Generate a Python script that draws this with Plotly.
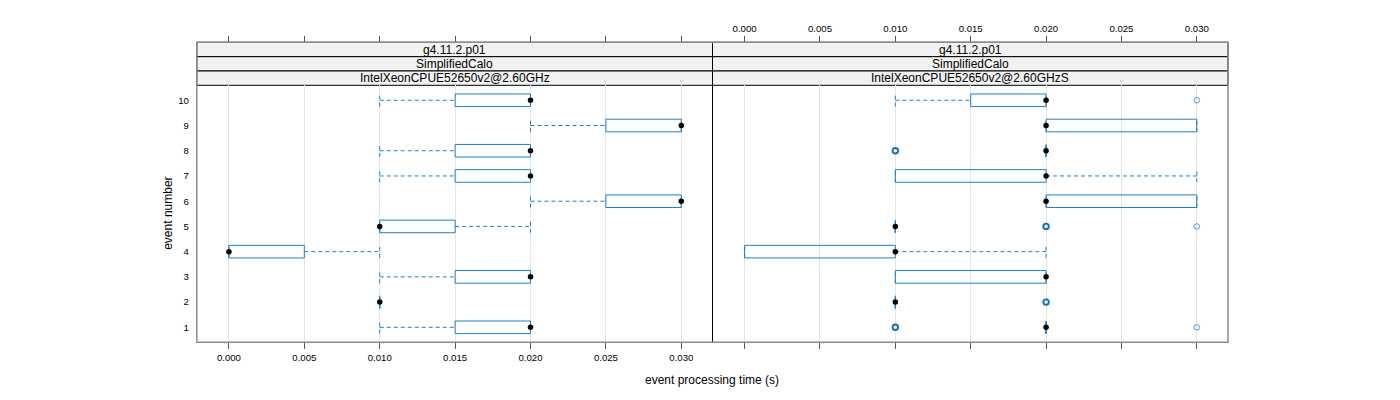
import plotly.graph_objects as go
from collections import Counter

# ---------------- data ----------------
events = [1, 2, 3, 4, 5, 6, 7, 8, 9, 10]
event_labels = ["1", "2", "3", "4", "5", "6", "7", "8", "9", "10"]
tick_vals = [0.000, 0.005, 0.010, 0.015, 0.020, 0.025, 0.030]
tick_text = ["0.000", "0.005", "0.010", "0.015", "0.020", "0.025", "0.030"]

strip_release = "g4.11.2.p01"
strip_app = "SimplifiedCalo"
panel_names = ["IntelXeonCPUE52650v2@2.60GHz", "IntelXeonCPUE52650v2@2.60GHzS"]

# panel 1 five-number summaries per event (lower whisker, Q1, median, Q3, upper whisker)
p1_lo  = [0.010, 0.010, 0.010, 0.000, 0.010, 0.020, 0.010, 0.010, 0.020, 0.010]
p1_q1  = [0.015, 0.010, 0.015, 0.000, 0.010, 0.025, 0.015, 0.015, 0.025, 0.015]
p1_med = [0.020, 0.010, 0.020, 0.000, 0.010, 0.030, 0.020, 0.020, 0.030, 0.020]
p1_q3  = [0.020, 0.010, 0.020, 0.005, 0.015, 0.030, 0.020, 0.020, 0.030, 0.020]
p1_hi  = [0.020, 0.010, 0.020, 0.010, 0.020, 0.030, 0.020, 0.020, 0.030, 0.020]
p1_out_x = []
p1_out_event = []

# panel 2
p2_lo  = [0.020, 0.010, 0.010, 0.000, 0.010, 0.020, 0.010, 0.020, 0.020, 0.010]
p2_q1  = [0.020, 0.010, 0.010, 0.000, 0.010, 0.020, 0.010, 0.020, 0.020, 0.015]
p2_med = [0.020, 0.010, 0.020, 0.010, 0.010, 0.020, 0.020, 0.020, 0.020, 0.020]
p2_q3  = [0.020, 0.010, 0.020, 0.010, 0.010, 0.030, 0.020, 0.020, 0.030, 0.020]
p2_hi  = [0.020, 0.010, 0.020, 0.020, 0.010, 0.030, 0.030, 0.020, 0.030, 0.020]
p2_out_x     = [0.010, 0.010, 0.030, 0.020, 0.020, 0.020, 0.020, 0.030, 0.010, 0.010, 0.030]
p2_out_event = [1,     1,     1,     2,     2,     5,     5,     5,     8,     8,     10]

# ---------------- style ----------------
W, H = 1400, 400
OFF = 8  # page body margin
BOX_COL = "#1f80c8"
HALF = 0.25
FONT = "Liberation Sans, Arial, sans-serif"
X_RANGE = [-0.00213, 0.03207]
Y_RANGE = [0.406, 10.594]

px_l1, px_mid, px_r2 = 196.8, 712.5, 1228.0
py_strip_top, py_s1, py_s2, py_panel_top, py_bottom = 42.3, 56.7, 71.0, 85.3, 342.3

def fx(p):
    return (p - OFF) / W

def fy(p):
    return 1 - (p - OFF) / H


def panel_traces(lo, q1, med, q3, hi, out_x, out_ev, xa):
    bx, by, wx, wy, cx, cy = [], [], [], [], [], []
    for e, a, b, m, c, d in zip(events, lo, q1, med, q3, hi):
        bx += [b, c, c, b, b, None]
        by += [e - HALF, e - HALF, e + HALF, e + HALF, e - HALF, None]
        wx += [a, b, None, c, d, None]
        wy += [e, e, None, e, e, None]
        cx += [a, a, None, d, d, None]
        cy += [e - HALF, e + HALF, None, e - HALF, e + HALF, None]
    tr = []
    tr.append(go.Scatter(x=wx, y=wy, xaxis=xa, yaxis="y", mode="lines",
                         line=dict(color=BOX_COL, width=1, dash="4px,3px"),
                         hoverinfo="skip", showlegend=False))
    tr.append(go.Scatter(x=cx, y=cy, xaxis=xa, yaxis="y", mode="lines",
                         line=dict(color=BOX_COL, width=1, dash="4px,3px"),
                         hoverinfo="skip", showlegend=False))
    tr.append(go.Scatter(x=bx, y=by, xaxis=xa, yaxis="y", mode="lines",
                         line=dict(color=BOX_COL, width=1),
                         hoverinfo="skip", showlegend=False))
    if out_x:
        cnt = Counter(zip(out_x, out_ev))
        ux = [k[0] for k in cnt]
        uy = [k[1] for k in cnt]
        lw = [1.0 if cnt[k] == 1 else 1.9 for k in cnt]
        col = ["rgba(31,128,200,0.75)" if cnt[k] == 1 else "#0f6fb8" for k in cnt]
        tr.append(go.Scatter(x=ux, y=uy, xaxis=xa, yaxis="y", mode="markers",
                             marker=dict(symbol="circle-open", size=5.5, color=col,
                                         line=dict(width=lw, color=col)),
                             showlegend=False))
    tr.append(go.Scatter(x=med, y=events, xaxis=xa, yaxis="y", mode="markers",
                         marker=dict(symbol="circle", size=5.5, color="black"),
                         showlegend=False))
    return tr


fig = go.Figure()
for t in panel_traces(p1_lo, p1_q1, p1_med, p1_q3, p1_hi, p1_out_x, p1_out_event, "x"):
    fig.add_trace(t)
for t in panel_traces(p2_lo, p2_q1, p2_med, p2_q3, p2_hi, p2_out_x, p2_out_event, "x2"):
    fig.add_trace(t)
# empty traces so the top axes are drawn
fig.add_trace(go.Scatter(x=[], y=[], xaxis="x3", yaxis="y", showlegend=False))
fig.add_trace(go.Scatter(x=[], y=[], xaxis="x4", yaxis="y", showlegend=False))

tickfont = dict(family=FONT, size=9.6, color="black")
common_x = dict(range=X_RANGE, tickvals=tick_vals, ticktext=tick_text, ticks="outside",
                ticklen=6, tickcolor="#555", tickwidth=1, zeroline=False, showline=False,
                tickfont=tickfont)
dom_y = [fy(py_bottom), fy(py_panel_top)]

fig.update_layout(
    width=W, height=H, margin=dict(l=0, r=0, t=0, b=0),
    paper_bgcolor="white", plot_bgcolor="white", showlegend=False,
    font=dict(family=FONT, size=12, color="black"),
    xaxis=dict(domain=[fx(px_l1), fx(px_mid)], anchor="y", showgrid=True,
               gridcolor="#e6e6e6", gridwidth=1, showticklabels=True, **common_x),
    xaxis2=dict(domain=[fx(px_mid), fx(px_r2)], anchor="y", showgrid=True,
                gridcolor="#e6e6e6", gridwidth=1, showticklabels=False, **common_x),
    xaxis3=dict(overlaying="x", side="top", anchor="free", position=fy(py_strip_top),
                showgrid=False, showticklabels=False, **common_x),
    xaxis4=dict(overlaying="x2", side="top", anchor="free", position=fy(py_strip_top),
                showgrid=False, showticklabels=True, **common_x),
    yaxis=dict(domain=dom_y, range=Y_RANGE, tickvals=events, ticktext=event_labels,
               ticks="outside", ticklen=5, tickcolor="rgba(0,0,0,0)", showgrid=False,
               zeroline=False, showline=False, tickfont=tickfont, anchor="x"),
)

shapes = []
strip_rows = [(py_strip_top, py_s1, strip_release), (py_s1, py_s2, strip_app),
              (py_s2, py_panel_top, None)]
annotations = []
for i, (x0, x1) in enumerate([(px_l1, px_mid), (px_mid, px_r2)]):
    for (y0, y1, txt) in strip_rows:
        shapes.append(dict(type="rect", xref="paper", yref="paper",
                           x0=fx(x0), x1=fx(x1), y0=fy(y1), y1=fy(y0),
                           fillcolor="#f2f2f2", line=dict(color="black", width=1),
                           layer="below"))
        label = txt if txt is not None else panel_names[i]
        annotations.append(dict(text=label, xref="paper", yref="paper",
                                x=fx((x0 + x1) / 2), y=fy((y0 + y1) / 2),
                                showarrow=False, xanchor="center", yanchor="middle",
                                font=dict(family=FONT, size=12, color="black")))
# panel divider
shapes.append(dict(type="line", xref="paper", yref="paper", x0=fx(px_mid), x1=fx(px_mid),
                   y0=fy(py_bottom), y1=fy(py_strip_top), line=dict(color="black", width=1)))
# outer frame
shapes.append(dict(type="rect", xref="paper", yref="paper", x0=fx(px_l1), x1=fx(px_r2),
                   y0=fy(py_bottom), y1=fy(py_strip_top), line=dict(color="#8c8c8c", width=1.5)))

annotations.append(dict(text="event processing time (s)", xref="paper", yref="paper",
                        x=fx(712), y=fy(380), showarrow=False, xanchor="center",
                        yanchor="middle", font=dict(family=FONT, size=12)))
annotations.append(dict(text="event number", xref="paper", yref="paper",
                        x=fx(168), y=fy(213.8), showarrow=False, textangle=-90,
                        xanchor="center", yanchor="middle", font=dict(family=FONT, size=12)))

fig.update_layout(shapes=shapes, annotations=annotations)
fig.write_html("out.html")
